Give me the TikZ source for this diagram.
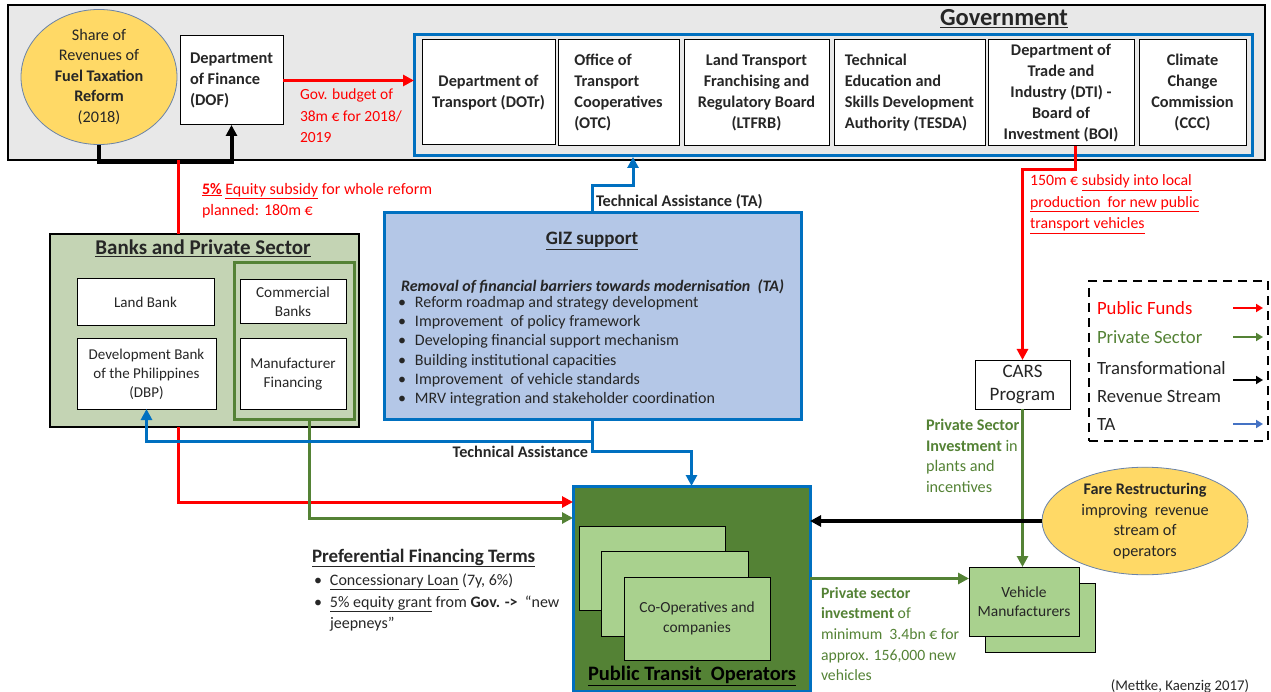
\documentclass[tikz,border=0pt]{standalone}
\usepackage{fontspec}
\setmainfont{Carlito}
\usetikzlibrary{arrows.meta,shapes.geometric,calc}
\definecolor{cRed}{HTML}{FF0000}
\definecolor{cGreen}{HTML}{548235}
\definecolor{cBlue}{HTML}{0070C0}
\definecolor{cTA}{HTML}{4472C4}
\definecolor{cGold}{HTML}{FFD966}
\definecolor{cLight}{HTML}{A9D18E}
\definecolor{cGIZ}{HTML}{B4C7E7}
\definecolor{cBank}{HTML}{C4D4B4}
\definecolor{cGov}{HTML}{E8E8E8}
\definecolor{cEll}{HTML}{6A83A8}
\definecolor{cTxt}{HTML}{262626}
\newcommand{\fsz}[2]{\fontsize{#1}{#2}\selectfont}
\begin{document}
\begin{tikzpicture}[x=1pt,y=-1pt,
  every node/.style={inner sep=0pt,outer sep=0pt,text=cTxt},
  wbox/.style={draw=black,fill=white,line width=1pt,align=center,font=\fsz{15}{20},anchor=north west},
  gbox/.style={draw=black,fill=white,line width=1pt,align=center,font=\bfseries\fsz{16.3}{21},anchor=north west},
  lbox/.style={draw=black,fill=cLight,line width=1pt,align=center,font=\fsz{15.4}{20},anchor=north west},
  redl/.style={draw=cRed,line width=3pt},
  grnl/.style={draw=cGreen,line width=3pt},
  blul/.style={draw=cBlue,line width=3pt},
  blkl/.style={draw=black,line width=4pt},
  tip/.style={-{Triangle[length=11pt,width=11pt]}},
  ltip/.style={-{Triangle[length=7pt,width=8pt]}},
  lgd/.style={anchor=west,font=\fsz{18.7}{20}},
  ]
\useasboundingbox (0,0) rectangle (1271,692);

% ---------------- Government ----------------
\node[draw=black,fill=cGov,line width=2pt,minimum width=1257pt,minimum height=155pt,anchor=north west] (gov) at (8,5) {};
\node[font=\bfseries\fsz{24.5}{26}] (govt) at (1004,19) {\underline{Government}};
\node[ellipse,draw=cEll,line width=0.8pt,fill=cGold,minimum width=156pt,minimum height=116pt,align=center,font=\fsz{16.2}{20.5}] (fuel) at (99,77)
  {Share of\\Revenues of\\\textbf{Fuel Taxation}\\\textbf{Reform}\\(2018)};
\node[wbox,font=\bfseries\fsz{16.4}{21},align=left,minimum width=103pt,minimum height=89pt] (dof) at (180,36) {Department\\of Finance\\(DOF)};
\node[anchor=north west,align=left,font=\fsz{15.5}{21.5},text=cRed] (budget) at (300,89) {Gov. budget of\\38m € for 2018/\\2019};
\node[draw=cBlue,line width=3pt,minimum width=838pt,minimum height=121pt,anchor=north west] (gf) at (414,35) {};
\node[gbox,minimum width=133pt,minimum height=105pt] (dotr) at (422,40) {Department of\\Transport (DOTr)};
\node[gbox,align=left,minimum width=121pt,minimum height=106pt] (otc) at (558,40) {Office of\\Transport\\Cooperatives\\(OTC)};
\node[gbox,minimum width=145pt,minimum height=106pt] (ltfrb) at (684,40) {Land Transport\\Franchising and\\Regulatory Board\\(LTFRB)};
\node[gbox,align=left,minimum width=151pt,minimum height=106pt] (tesda) at (834,40) {Technical\\Education and\\Skills Development\\Authority (TESDA)};
\node[gbox,minimum width=146pt,minimum height=106pt] (dti) at (988,40) {Department of\\Trade and\\Industry (DTI) -\\Board of\\Investment (BOI)};
\node[gbox,minimum width=107pt,minimum height=106pt] (ccc) at (1139,40) {Climate\\Change\\Commission\\(CCC)};

\draw[blkl,tip] (fuel.south) -- ++(0,17) -| (dof.south);
\draw[redl,tip] (dof.east) -- (dof.east -| gf.west);

% ---------------- Banks ----------------
\coordinate (redsrc) at (178,160);
\node[draw=black,fill=cBank,line width=2pt,minimum width=309pt,minimum height=193pt,anchor=north west] (banks) at (50,234) {};
\node[font=\bfseries\fsz{21}{24}] (bankst) at (203,248) {\underline{Banks and Private Sector}};
\node[wbox,minimum width=137pt,minimum height=47pt] (land) at (77,279) {Land Bank};
\node[wbox,minimum width=139pt,minimum height=70pt,font=\fsz{15}{19}] (dbp) at (77,339) {Development Bank\\of the Philippines\\(DBP)};
\node[draw=cGreen,line width=3pt,minimum width=120pt,minimum height=156pt,anchor=north west] (gfr) at (234,263) {};
\node[wbox,minimum width=106pt,minimum height=44pt,font=\fsz{15.2}{19}] (comm) at (240,280) {Commercial\\Banks};
\node[wbox,minimum width=106pt,minimum height=70pt,font=\fsz{15.2}{19}] (manf) at (240,339) {Manufacturer\\Financing};
\node[anchor=north west,align=left,font=\fsz{16}{21},text=cRed] (equity) at (202,183) {\underline{\textbf{5\%}} \underline{Equity subsidy} for whole reform\\planned: 180m €};

% ---------------- GIZ ----------------
\node[draw=cBlue,fill=cGIZ,line width=3pt,minimum width=417pt,minimum height=206pt,anchor=north west] (giz) at (384,213) {};
\node[font=\bfseries\fsz{19}{22}] (gizt) at (592,241) {\underline{GIZ support}};
\node[anchor=west,font=\bfseries\itshape\fsz{16}{19}] (gizh) at (401,287) {Removal of financial barriers towards modernisation\ \ (TA)};
\node[anchor=north west,align=left,font=\fsz{16}{19.3}] (gizl) at (398,296) {%
\makebox[17pt][l]{\textbullet}Reform roadmap and strategy development\\
\makebox[17pt][l]{\textbullet}Improvement\ \ of policy framework\\
\makebox[17pt][l]{\textbullet}Developing financial support mechanism\\
\makebox[17pt][l]{\textbullet}Building institutional capacities\\
\makebox[17pt][l]{\textbullet}Improvement\ \ of vehicle standards\\
\makebox[17pt][l]{\textbullet}MRV integration and stakeholder coordination};
\coordinate (taend) at (633,157);
\draw[blul,tip] (giz.north) -- ++(0,-27) -| (taend);
\node[anchor=west,font=\bfseries\fsz{16.3}{18}] (talbl) at (596,202) {Technical Assistance (TA)};

% ---------------- PTO ----------------
\node[draw=cBlue,fill=cGreen,line width=3pt,minimum width=237pt,minimum height=205pt,anchor=north west] (pto) at (573,486) {};
\node[lbox,minimum width=146pt,minimum height=84pt] (co1) at (579,526) {};
\node[lbox,minimum width=147pt,minimum height=85pt] (co2) at (601,551) {};
\node[lbox,minimum width=146pt,minimum height=83pt] (co3) at (624,577) {Co-Operatives and\\companies};
\node[font=\bfseries\fsz{20.5}{22},text=black] (ptot) at (692,676) {\underline{Public Transit\ \ Operators}};

\draw[redl] (redsrc) -- (redsrc |- banks.north);
\coordinate (redin) at ([yshift=-16pt]pto.north west);
\coordinate (grnin) at ([yshift=-32pt]pto.north west);
\draw[redl,tip] (banks.south -| redsrc) |- (redin);
\draw[grnl,tip] ([xshift=15pt]gfr.south) |- (grnin);
\draw[blul,tip] (giz.south) -- ++(0,22) -| (dbp.south);
\draw[blul,tip] (giz.south) -- ++(0,32) -| (pto.north);
\node[anchor=east,font=\bfseries\fsz{16.2}{18}] (ta2) at (588,452) {Technical Assistance};

\node[anchor=west,font=\bfseries\fsz{19}{20}] (pft) at (312,558) {\underline{Preferential Financing Terms}};
\node[anchor=north west,align=left,font=\fsz{16}{21.5}] (pfl) at (314,574) {%
\makebox[16pt][l]{\textbullet}\underline{Concessionary Loan} (7y, 6\%)\\
\makebox[16pt][l]{\textbullet}\underline{5\% equity grant} from \textbf{Gov. ->}\ \ “new\\
\makebox[16pt][l]{}jeepneys”};

% ---------------- CARS / manufacturers ----------------
\node[wbox,minimum width=95pt,minimum height=49pt,font=\fsz{19}{23}] (cars) at (975,360) {CARS\\Program};
\draw[redl,tip] ([xshift=14pt]dti.south) -- ++(0,24) -| (cars.north);
\node[anchor=north west,align=left,font=\fsz{15.8}{21.5},text=cRed] (subs) at (1030,175) {150m € \underline{subsidy into local}\\\underline{production\ \ for new public}\\\underline{transport vehicles}};
\node[anchor=north west,align=left,font=\fsz{16.2}{20.7},text=cGreen] (psi) at (926,419) {\textbf{Private Sector}\\\textbf{Investment} in\\plants and\\incentives};

\node[lbox,minimum width=110pt,minimum height=69pt] (vmb) at (985,583) {};
\node[lbox,minimum width=110pt,minimum height=69pt,font=\fsz{15.5}{19}] (vmf) at (969,567) {Vehicle\\Manufacturers};
\draw[grnl,tip] (cars.south) -- (cars.south |- vmf.north);
\draw[grnl,tip] ([yshift=10pt]pto.east) -- ([yshift=10pt]pto.east -| vmf.west);
\node[anchor=north west,align=left,font=\fsz{15.7}{20.7},text=cGreen] (psi2) at (821,587) {\textbf{Private sector}\\\textbf{investment} of\\minimum\ \ 3.4bn € for\\approx. 156,000 new\\vehicles};

\node[ellipse,draw=cEll,line width=0.8pt,fill=cGold,minimum width=206pt,minimum height=102pt,align=center,font=\fsz{16.2}{20.7}] (fare) at (1145,521)
  {\textbf{Fare Restructuring}\\improving\ \ revenue\\stream of\\operators};
\draw[blkl,tip] (fare.west) -- (fare.west -| pto.east);

% ---------------- Legend ----------------
\node[draw=black,dashed,line width=2.5pt,dash pattern=on 9pt off 6pt,minimum width=179pt,minimum height=160pt,anchor=north west] (leg) at (1089,281) {};
\node[lgd,text=cRed] (lpf) at (1097,308) {Public Funds};
\node[lgd,text=cGreen] (lps) at (1097,337) {Private Sector};
\node[lgd,anchor=north west,align=left,font=\fsz{18.7}{28}] (ltr) at (1097,362) {Transformational\\Revenue Stream};
\node[lgd] (lta) at (1097,424) {TA};
\coordinate (a1s) at (1233,308); \coordinate (a1e) at (1263,308);
\coordinate (a2s) at (1233,337); \coordinate (a2e) at (1263,337);
\coordinate (a3s) at (1233,380); \coordinate (a3e) at (1263,380);
\coordinate (a4s) at (1233,424); \coordinate (a4e) at (1263,424);
\draw[draw=cRed,line width=2pt,ltip] (a1s) -- (a1e);
\draw[draw=cGreen,line width=2pt,ltip] (a2s) -- (a2e);
\draw[draw=black,line width=2pt,ltip] (a3s) -- (a3e);
\draw[draw=cTA,line width=2pt,ltip] (a4s) -- (a4e);

\node[anchor=east,font=\fsz{14.8}{16}] (cite) at (1249,686) {(Mettke, Kaenzig 2017)};
\end{tikzpicture}
\end{document}
